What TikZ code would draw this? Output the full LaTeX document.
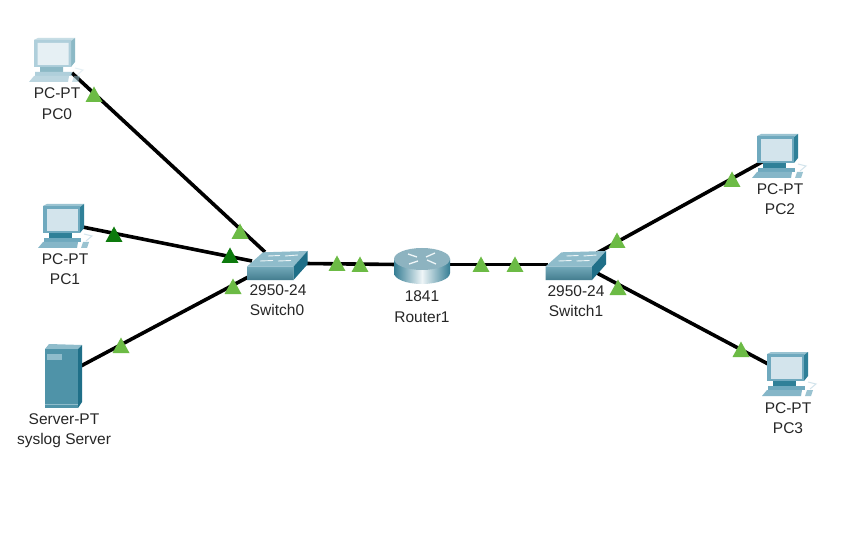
\documentclass[tikz,border=0pt]{standalone}
\usepackage{fontspec}
\setmainfont{Liberation Sans}
\definecolor{lnk}{HTML}{6CBB45}
\definecolor{lnkd}{HTML}{0D7A0D}
\definecolor{tft}{HTML}{4F93A8}
\definecolor{tfr}{HTML}{1F6F88}
\definecolor{ttop}{HTML}{8FBCCB}
\definecolor{pcfr}{HTML}{6FA9BE}
\definecolor{pcsd}{HTML}{2F8098}
\definecolor{pcsc}{HTML}{D3E4EC}
\tikzset{
  x=1pt,y=-1pt,
  wire/.style={line width=3.6pt,black},
  lbl/.style={font=\fontsize{15.5}{17}\selectfont,text=black!85,inner sep=0pt,anchor=center},
  tri/.pic={\fill[pic actions] (-8.5,7)--(0,-8.5)--(8.5,7)--cycle;},
  pc/.pic={
    % monitor
    \fill[fill=pcfr!70!white] (5,2)--(9,0)--(46,0)--(42,3)--cycle;
    \fill[fill=pcsd] (42,3)--(46,0)--(46,24)--(42,29)--cycle;
    \fill[fill=pcfr] (5,2) rectangle (42,29);
    \fill[fill=pcsc] (8.5,5) rectangle (39.5,27);
    \fill[fill=pcsd] (11,29) rectangle (34,35);
    % base
    \fill[fill=pcfr] (6,34)--(43,34)--(43,38)--(6,38)--cycle;
    \fill[fill=pcfr!85!white] (0,44)--(5,38)--(40,38)--(39,44)--cycle;
    % mouse and cable
    \fill[fill=pcfr!70!white] (43,44)--(45,38)--(51,38)--(49,44)--cycle;
    \draw[pcsc,line width=1pt] (46,30)--(54,32)--(48,37);
  },
  switchicon/.pic={
    \fill[fill=ttop] (0,15.5)--(16,1.3)--(60.5,0)--(46.5,15.7)--cycle;
    \shade[top color=tft!80!white,bottom color=tft!85!black] (0,15.5)--(46.5,15.7)--(46.5,29)--(0,29)--cycle;
    \fill[fill=tfr] (46.5,15.7)--(60.5,0)--(60.5,13.3)--(46.5,29)--cycle;
    \draw[white!85!ttop,line width=.9pt] (21,5)--(33,4.5) (38,5)--(51,4) (13,10)--(26,9.5) (31,10)--(44,9.5);
  },
  routericon/.pic={
    \shade[left color=tfr!90!white,right color=tfr!90!white,middle color=white!85!ttop] (-28,0)--(-28,14) arc[start angle=180,end angle=0,x radius=28,y radius=11] --(28,0)--cycle;
    \fill[fill=ttop!85!gray] (0,0) ellipse[x radius=28,y radius=11];
    \draw[white!85!ttop,line width=1.3pt] (-14,-5)--(-5,-2) (13,-6)--(4,-2) (-13,5)--(-4,2) (14,5)--(5,1);
  },
  servericon/.pic={
    \fill[fill=ttop] (0,5)--(4,0)--(37,1)--(33,5)--cycle;
    \fill[fill=tft] (0,5) rectangle (33,64);
    \fill[fill=tfr] (33,5)--(37,1)--(37,58)--(33,64)--cycle;
    \fill[fill=ttop] (2,10) rectangle (17,16);
    \draw[ttop,line width=.5pt] (0,60)--(33,60);
  }
}
\begin{document}
\begin{tikzpicture}
\useasboundingbox (0,0) rectangle (865,540);
\fill[white] (0,0) rectangle (865,540);
% anchors
\coordinate (pc0) at (72,73);
\coordinate (pc1) at (80,226.5);
\coordinate (srv) at (80,366.5);
\coordinate (pc2) at (762,162);
\coordinate (pc3) at (770,365);
\coordinate (sw0a) at (265,252);
\coordinate (sw0b) at (252,261);
\coordinate (sw0c) at (252,275);
\coordinate (sw0r) at (305,263.5);
\coordinate (r1l) at (397,264.5);
\coordinate (r1r) at (447,264.5);
\coordinate (sw1l) at (548,264.5);
\coordinate (sw1a) at (597,253);
\coordinate (sw1b) at (595,272);
% connectors
\draw[wire] (pc0)--(sw0a);
\draw[wire] (pc1)--(sw0b);
\draw[wire] (srv)--(sw0c);
\draw[wire] (sw0r)--(r1l);
\draw[wire] (r1r)--(sw1l);
\draw[wire] (pc2)--(sw1a);
\draw[wire] (pc3)--(sw1b);
% icons
\begin{scope}[opacity=.55,transparency group]
\pic at (29,38) {pc};
\end{scope}
\pic at (38,204) {pc};
\pic at (752,134) {pc};
\pic at (762,352) {pc};
\pic at (45,344) {servericon};
\pic at (247,251) {switchicon};
\pic at (545.5,251) {switchicon};
\pic at (422,259) {routericon};
% link lights
\pic[fill=lnk] at (94,95) {tri};
\pic[fill=lnk] at (240,232) {tri};
\pic[fill=lnkd] at (114,235) {tri};
\pic[fill=lnkd] at (230,256) {tri};
\pic[fill=lnk] at (233,287) {tri};
\pic[fill=lnk] at (121,346) {tri};
\pic[fill=lnk] at (337,264) {tri};
\pic[fill=lnk] at (360,265) {tri};
\pic[fill=lnk] at (481,265) {tri};
\pic[fill=lnk] at (515,265) {tri};
\pic[fill=lnk] at (617,241) {tri};
\pic[fill=lnk] at (618,288) {tri};
\pic[fill=lnk] at (732,180) {tri};
\pic[fill=lnk] at (741,350) {tri};
% labels
\node[lbl] (l0a) at (57,93) {PC-PT};
\node[lbl] (l0b) at (57,114) {PC0};
\node[lbl] (l1a) at (65,259) {PC-PT};
\node[lbl] (l1b) at (65,279) {PC1};
\node[lbl] (lsa) at (64,419) {Server-PT};
\node[lbl] (lsb) at (64,440) {syslog Server};
\node[lbl] (lw0a) at (278,290) {2950-24};
\node[lbl] (lw0b) at (277,310) {Switch0};
\node[lbl] (lra) at (422,296) {1841};
\node[lbl] (lrb) at (422,317) {Router1};
\node[lbl] (lw1a) at (576,291) {2950-24};
\node[lbl] (lw1b) at (576,311) {Switch1};
\node[lbl] (l2a) at (780,189) {PC-PT};
\node[lbl] (l2b) at (780,209) {PC2};
\node[lbl] (l3a) at (788,408) {PC-PT};
\node[lbl] (l3b) at (788,428) {PC3};
\end{tikzpicture}
\end{document}
